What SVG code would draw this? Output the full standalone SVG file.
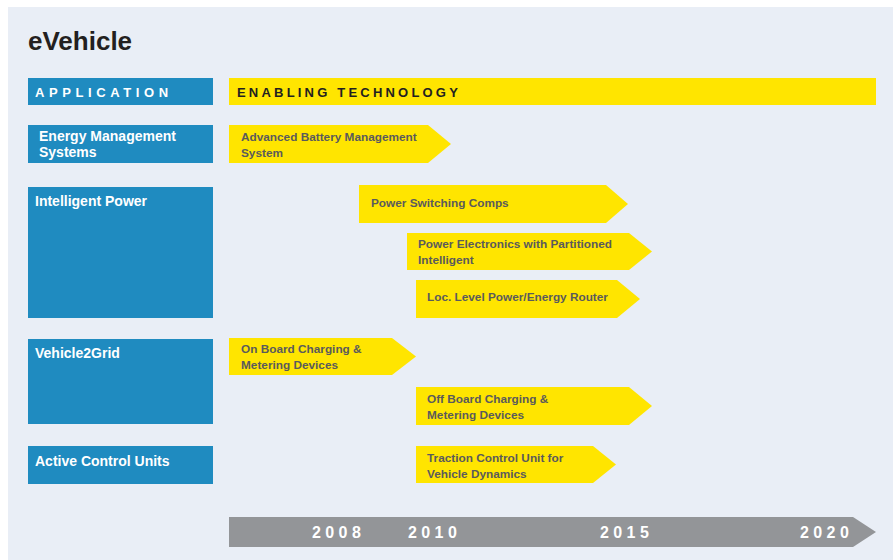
<svg xmlns="http://www.w3.org/2000/svg" width="893" height="560" viewBox="0 0 893 560">
<style>
.app{fill:#1f8bc0}
.yel{fill:#ffe500}
.apt{font-family:"Liberation Sans",Arial,sans-serif;font-weight:bold;font-size:14px;fill:#ffffff}
.yt{font-family:"Liberation Sans",Arial,sans-serif;font-weight:bold;font-size:11.8px;fill:#5a5a5c}
.hd{font-family:"Liberation Sans",Arial,sans-serif;font-weight:bold;font-size:13px;letter-spacing:4.6px}
.yr{font-family:"Liberation Sans",Arial,sans-serif;font-weight:bold;font-size:16px;fill:#ffffff;letter-spacing:4.4px}
</style>
<rect x="0" y="0" width="893" height="560" fill="#ffffff"/>
<rect x="8" y="7" width="885" height="553" fill="#e9eef6"/>
<text x="28" y="50" font-family="Liberation Sans,Arial,sans-serif" font-weight="bold" font-size="26" fill="#231f20">eVehicle</text>

<g id="header-application">
<rect class="app" x="28" y="78" width="185" height="27"/>
<text class="hd" x="35" y="97" fill="#ffffff">APPLICATION</text>
</g>
<g id="header-enabling">
<rect class="yel" x="229" y="78" width="647" height="27"/>
<text class="hd" x="237" y="97" fill="#231f20" style="letter-spacing:3.2px">ENABLING TECHNOLOGY</text>
</g>

<g id="app-energy">
<rect class="app" x="28" y="125" width="185" height="38"/>
<text class="apt" x="39" y="141">Energy Management</text>
<text class="apt" x="39" y="157">Systems</text>
</g>
<g id="app-intelligent">
<rect class="app" x="28" y="187" width="185" height="131"/>
<text class="apt" x="35" y="206">Intelligent Power</text>
</g>
<g id="app-v2g">
<rect class="app" x="28" y="339" width="185" height="85"/>
<text class="apt" x="35" y="358">Vehicle2Grid</text>
</g>
<g id="app-acu">
<rect class="app" x="28" y="446" width="185" height="38"/>
<text class="apt" x="35" y="466">Active Control Units</text>
</g>

<g id="tech-abms">
<polygon class="yel" points="229,125 428,125 451,144 428,163 229,163"/>
<text class="yt" x="241" y="141">Advanced Battery Management</text>
<text class="yt" x="241" y="157">System</text>
</g>
<g id="tech-psc">
<polygon class="yel" points="359,185 606,185 628,204 606,223 359,223"/>
<text class="yt" x="371" y="207">Power Switching Comps</text>
</g>
<g id="tech-pe">
<polygon class="yel" points="407,233 629,233 652,251.5 629,270 407,270"/>
<text class="yt" x="418" y="248">Power Electronics with Partitioned</text>
<text class="yt" x="418" y="264">Intelligent</text>
</g>
<g id="tech-loc">
<polygon class="yel" points="416,280 617,280 640,299 617,318 416,318"/>
<text class="yt" x="427" y="301">Loc. Level Power/Energy Router</text>
</g>
<g id="tech-onboard">
<polygon class="yel" points="229,338 392,338 416,356.5 392,375 229,375"/>
<text class="yt" x="241" y="353">On Board Charging &amp;</text>
<text class="yt" x="241" y="369">Metering Devices</text>
</g>
<g id="tech-offboard">
<polygon class="yel" points="416,387 629,387 652,406 629,425 416,425"/>
<text class="yt" x="427" y="403">Off Board Charging &amp;</text>
<text class="yt" x="427" y="419">Metering Devices</text>
</g>
<g id="tech-traction">
<polygon class="yel" points="416,446 593,446 616,464.5 593,483 416,483"/>
<text class="yt" x="427" y="462">Traction Control Unit for</text>
<text class="yt" x="427" y="478">Vehicle Dynamics</text>
</g>

<g id="timeline">
<polygon points="229,517 853,517 876,532 853,547 229,547" fill="#939598"/>
<text class="yr" x="312" y="538">2008</text>
<text class="yr" x="408" y="538">2010</text>
<text class="yr" x="600" y="538">2015</text>
<text class="yr" x="800" y="538">2020</text>
</g>
<g id="connectors"></g>
</svg>
